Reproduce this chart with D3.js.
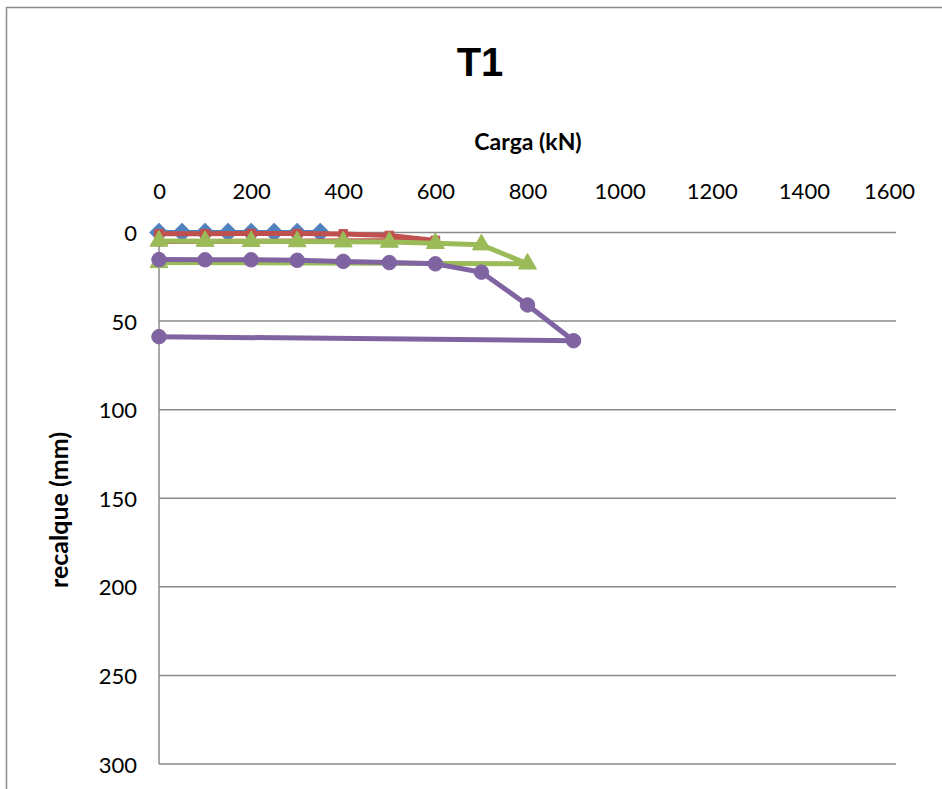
<!DOCTYPE html>
<html>
<head>
<meta charset="utf-8">
<script src="https://cdn.jsdelivr.net/npm/d3@7"></script>
<style>
  html, body { margin: 0; padding: 0; background: #fff; }
  svg { display: block; }
</style>
</head>
<body>
<svg id="chart" width="942" height="789"></svg>
<script>
// Load test T1: load (kN) vs settlement (mm), four loading/unloading cycles
const xTicks = [0, 200, 400, 600, 800, 1000, 1200, 1400, 1600];
const yTicks = [0, 50, 100, 150, 200, 250, 300];

const loadCycle1 = [0, 50, 100, 150, 200, 250, 300, 350];
const settleCycle1 = [0, 0, 0, 0, 0, 0, 0, 0];

const loadCycle2 = [0, 100, 200, 300, 400, 500, 600, 0];
const settleCycle2 = [0.7, 0.7, 0.6, 0.6, 0.8, 1.7, 4.5, 5.1];

const loadCycle3 = [0, 100, 200, 300, 400, 500, 600, 700, 800, 0];
const settleCycle3 = [4.8, 4.9, 5.0, 5.1, 5.2, 5.4, 6.1, 6.9, 17.7, 16.9];

const loadCycle4 = [0, 100, 200, 300, 400, 500, 600, 700, 800, 900, 0];
const settleCycle4 = [15.3, 15.4, 15.4, 15.7, 16.3, 17.0, 17.7, 22.4, 40.9, 61.1, 58.8];

const series = [
  { load: loadCycle1, settle: settleCycle1, color: "#4F81BD", marker: "diamond" },
  { load: loadCycle2, settle: settleCycle2, color: "#C0504D", marker: "square" },
  { load: loadCycle3, settle: settleCycle3, color: "#9BBB59", marker: "triangle" },
  { load: loadCycle4, settle: settleCycle4, color: "#8064A2", marker: "circle" }
];

const svg = d3.select("#chart");
const plot = { left: 159, right: 896, top: 232.5, bottom: 764 };

const x = d3.scaleLinear().domain([0, 1600]).range([plot.left, plot.right]);
const y = d3.scaleLinear().domain([0, 300]).range([plot.top, plot.bottom]);

// chart frame
svg.append("rect")
  .attr("x", 6.5).attr("y", 7.5)
  .attr("width", 1000).attr("height", 1000)
  .attr("fill", "#fff")
  .attr("stroke", "#8c8c8c").attr("stroke-width", 1.5);

// horizontal gridlines
svg.append("g")
  .selectAll("line")
  .data(yTicks)
  .join("line")
  .attr("x1", plot.left).attr("x2", plot.right)
  .attr("y1", d => y(d)).attr("y2", d => y(d))
  .attr("stroke", "#8a8a8a").attr("stroke-width", 1.5);

// vertical axis line
svg.append("line")
  .attr("x1", plot.left).attr("x2", plot.left)
  .attr("y1", plot.top).attr("y2", plot.bottom)
  .attr("stroke", "#8a8a8a").attr("stroke-width", 1.5);

const tickFont = "Lato, 'Open Sans', sans-serif";

// top x-axis labels
const xAxis = d3.axisTop(x).tickValues(xTicks).tickFormat(d3.format("d")).tickSize(0).tickPadding(0);
const gx = svg.append("g")
  .attr("transform", `translate(0, 199)`)
  .call(xAxis);
gx.select(".domain").remove();
gx.selectAll("text")
  .attr("font-family", tickFont)
  .attr("font-size", 22)
  .attr("fill", "#000")
  .attr("dy", 0)
  .attr("dx", d => d === 1600 ? -7 : 0);

// left y-axis labels
const yAxis = d3.axisLeft(y).tickValues(yTicks).tickFormat(d3.format("d")).tickSize(0).tickPadding(0);
const gy = svg.append("g")
  .attr("transform", `translate(137, 1)`)
  .call(yAxis);
gy.select(".domain").remove();
gy.selectAll("text")
  .attr("font-family", tickFont)
  .attr("font-size", 22)
  .attr("fill", "#000");

// titles
svg.append("text")
  .attr("x", 480).attr("y", 76)
  .attr("text-anchor", "middle")
  .attr("font-family", "'Liberation Sans', Arial, sans-serif")
  .attr("font-weight", "bold")
  .attr("font-size", 40)
  .text("T1");

svg.append("text")
  .attr("x", 528).attr("y", 150)
  .attr("text-anchor", "middle")
  .attr("font-family", tickFont)
  .attr("font-weight", "bold")
  .attr("font-size", 23)
  .text("Carga (kN)");

svg.append("text")
  .attr("transform", "translate(68, 510) rotate(-90)")
  .attr("text-anchor", "middle")
  .attr("font-family", tickFont)
  .attr("font-weight", "bold")
  .attr("font-size", 25)
  .text("recalque (mm)");

// series lines and markers
const line = d3.line().x(d => x(d[0])).y(d => y(d[1]));
const symbols = {
  diamond: d3.symbol().type(d3.symbolSquare).size(165),
  square: d3.symbol().type(d3.symbolSquare).size(75),
  triangle: d3.symbol().type(d3.symbolTriangle).size(140),
  circle: d3.symbol().type(d3.symbolCircle).size(165)
};

series.forEach(s => {
  const pts = s.load.map((l, i) => [l, s.settle[i]]);
  const g = svg.append("g");
  g.append("path")
    .attr("d", line(pts))
    .attr("fill", "none")
    .attr("stroke", s.color)
    .attr("stroke-width", 5)
    .attr("stroke-linejoin", "round");
  g.selectAll("path.mk")
    .data(pts)
    .join("path")
    .attr("class", "mk")
    .attr("d", symbols[s.marker]())
    .attr("fill", s.color)
    .attr("stroke", s.color)
    .attr("stroke-width", 1)
    .attr("transform", d => `translate(${x(d[0])}, ${y(d[1])})` + (s.marker === "diamond" ? " rotate(45)" : ""));
});
</script>
</body>
</html>
